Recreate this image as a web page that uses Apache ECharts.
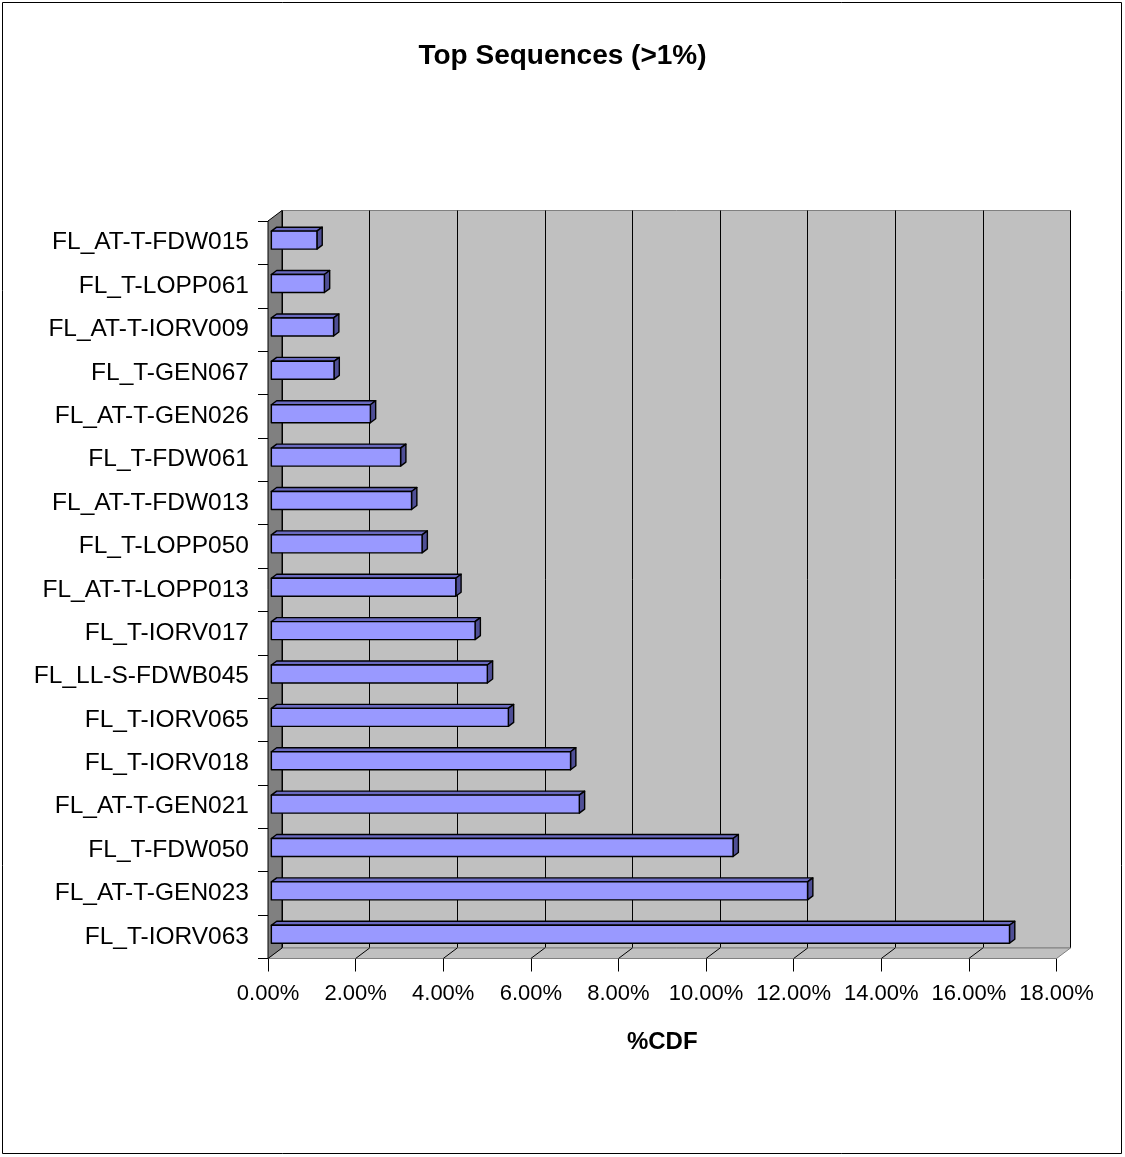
<!DOCTYPE html>
<html>
<head>
<meta charset="utf-8">
<title>Top Sequences (>1%)</title>
<script src="https://cdn.jsdelivr.net/npm/echarts@6/dist/echarts.min.js"></script>
<style>
  html, body { margin: 0; padding: 0; background: #fff; }
  #chart { width: 1125px; height: 1157px; }
</style>
</head>
<body>
<div id="chart"></div>
<script>
// Sequence names, top to bottom
const categories = [
  'FL_AT-T-FDW015', 'FL_T-LOPP061', 'FL_AT-T-IORV009', 'FL_T-GEN067',
  'FL_AT-T-GEN026', 'FL_T-FDW061', 'FL_AT-T-FDW013', 'FL_T-LOPP050',
  'FL_AT-T-LOPP013', 'FL_T-IORV017', 'FL_LL-S-FDWB045', 'FL_T-IORV065',
  'FL_T-IORV018', 'FL_AT-T-GEN021', 'FL_T-FDW050', 'FL_AT-T-GEN023',
  'FL_T-IORV063'
];
// Share of CDF for each sequence, in percent
const cdfPercent = [
  1.04, 1.21, 1.42, 1.43,
  2.26, 2.95, 3.20, 3.44,
  4.21, 4.65, 4.93, 5.41,
  6.83, 7.03, 10.54, 12.24,
  16.85
];
// Value axis ticks (percent)
const xTicks = [0, 2, 4, 6, 8, 10, 12, 14, 16, 18];

// 3D look: shift from the front plane to the back wall
const DX = 14, DY = -10.5;
// bar placement in depth (fraction of full depth) and face height (fraction of band)
const BAR_DEPTH_START = 0.24, BAR_DEPTH = 0.38, BAR_FACE = 0.415;

const FONT = '"Liberation Sans", Arial, sans-serif';
const FRONT = { left: 268, top: 221, width: 788.5, height: 737.5 };

const chart = echarts.init(document.getElementById('chart'));

function wallsRender(params, api) {
  const cs = params.coordSys;
  const x = cs.x, y = cs.y, w = cs.width, h = cs.height;
  const children = [];
  // floor
  children.push({
    type: 'polygon',
    shape: { points: [[x, y + h], [x + DX, y + h + DY], [x + w + DX, y + h + DY], [x + w, y + h]] },
    style: { fill: '#C0C0C0', stroke: '#808080', lineWidth: 1 }
  });
  // floor grid lines
  xTicks.slice(1, -1).forEach(function (t) {
    const px = api.coord([t, 0])[0];
    children.push({
      type: 'line',
      shape: { x1: px, y1: y + h, x2: px + DX, y2: y + h + DY },
      style: { stroke: '#000', lineWidth: 1 }
    });
  });
  // left side wall
  children.push({
    type: 'polygon',
    shape: { points: [[x, y], [x + DX, y + DY], [x + DX, y + h + DY], [x, y + h]] },
    style: { fill: '#808080', stroke: '#000', lineWidth: 1 }
  });
  return { type: 'group', children: children };
}

function barRender(params, api) {
  const idx = api.value(1);
  const p0 = api.coord([0, idx]);
  const p1 = api.coord([api.value(0), idx]);
  const band = api.size([0, 1])[1];
  const ox = BAR_DEPTH_START * DX, oy = BAR_DEPTH_START * DY;
  const bx = BAR_DEPTH * DX, by = BAR_DEPTH * DY;
  const fh = band * BAR_FACE;
  const xl = p0[0] + ox, xr = p1[0] + ox;
  const yt = p0[1] + oy - fh / 2, yb = yt + fh;
  const line = { stroke: '#000', lineWidth: 1.4, lineJoin: 'round' };
  return {
    type: 'group',
    children: [
      {
        type: 'polygon',
        shape: { points: [[xl, yt], [xl + bx, yt + by], [xr + bx, yt + by], [xr, yt]] },
        style: Object.assign({ fill: '#6A6AC0' }, line)
      },
      {
        type: 'polygon',
        shape: { points: [[xr, yt], [xr + bx, yt + by], [xr + bx, yb + by], [xr, yb]] },
        style: Object.assign({ fill: '#4F4F96' }, line)
      },
      {
        type: 'rect',
        shape: { x: xl, y: yt, width: xr - xl, height: fh },
        style: Object.assign({ fill: '#9999FF' }, line)
      }
    ]
  };
}

const option = {
  backgroundColor: '#fff',
  animation: false,
  title: {
    text: 'Top Sequences (>1%)',
    left: 'center',
    top: 37,
    textStyle: { fontFamily: FONT, fontSize: 28, fontWeight: 'bold', color: '#000' }
  },
  graphic: [{
    type: 'rect',
    shape: { x: 2.5, y: 2.5, width: 1119, height: 1151 },
    style: { fill: 'none', stroke: '#000', lineWidth: 1 },
    silent: true
  }],
  grid: [
    Object.assign({}, FRONT),
    {
      left: FRONT.left + DX, top: FRONT.top + DY, width: FRONT.width, height: FRONT.height,
      show: true, backgroundColor: '#C0C0C0', borderColor: '#808080', borderWidth: 1
    }
  ],
  xAxis: [
    {
      gridIndex: 0, type: 'value', min: 0, max: 18, interval: 2,
      axisLine: { show: true, lineStyle: { color: '#000', width: 1 } },
      axisTick: { show: true, length: 13, lineStyle: { color: '#000' } },
      axisLabel: {
        margin: 24, color: '#000', fontFamily: FONT, fontSize: 22,
        formatter: function (v) { return v.toFixed(2) + '%'; }
      },
      splitLine: { show: false },
      name: '%CDF', nameLocation: 'middle', nameGap: 72,
      nameTextStyle: { fontFamily: FONT, fontSize: 24, fontWeight: 'bold', color: '#000' }
    },
    {
      gridIndex: 1, type: 'value', min: 0, max: 18, interval: 2,
      axisLine: { show: false }, axisTick: { show: false }, axisLabel: { show: false },
      splitLine: { show: true, lineStyle: { color: '#000', width: 1 } }
    }
  ],
  yAxis: [
    {
      gridIndex: 0, type: 'category', data: categories, inverse: true,
      axisLine: { show: true, lineStyle: { color: '#000', width: 1 } },
      axisTick: { show: true, length: 10, lineStyle: { color: '#000' } },
      axisLabel: { margin: 19, color: '#000', fontFamily: FONT, fontSize: 24.5 }
    },
    {
      gridIndex: 1, type: 'category', data: categories, inverse: true,
      axisLine: { show: false }, axisTick: { show: false }, axisLabel: { show: false },
      splitLine: { show: false }
    }
  ],
  series: [
    {
      type: 'custom', name: 'walls', xAxisIndex: 0, yAxisIndex: 0, z: 1,
      renderItem: wallsRender, data: [[0, 0]], silent: true
    },
    {
      type: 'custom', name: '%CDF', xAxisIndex: 0, yAxisIndex: 0, z: 3,
      renderItem: barRender,
      data: cdfPercent.map(function (v, i) { return [v, i]; })
    }
  ]
};

chart.setOption(option);
</script>
</body>
</html>
